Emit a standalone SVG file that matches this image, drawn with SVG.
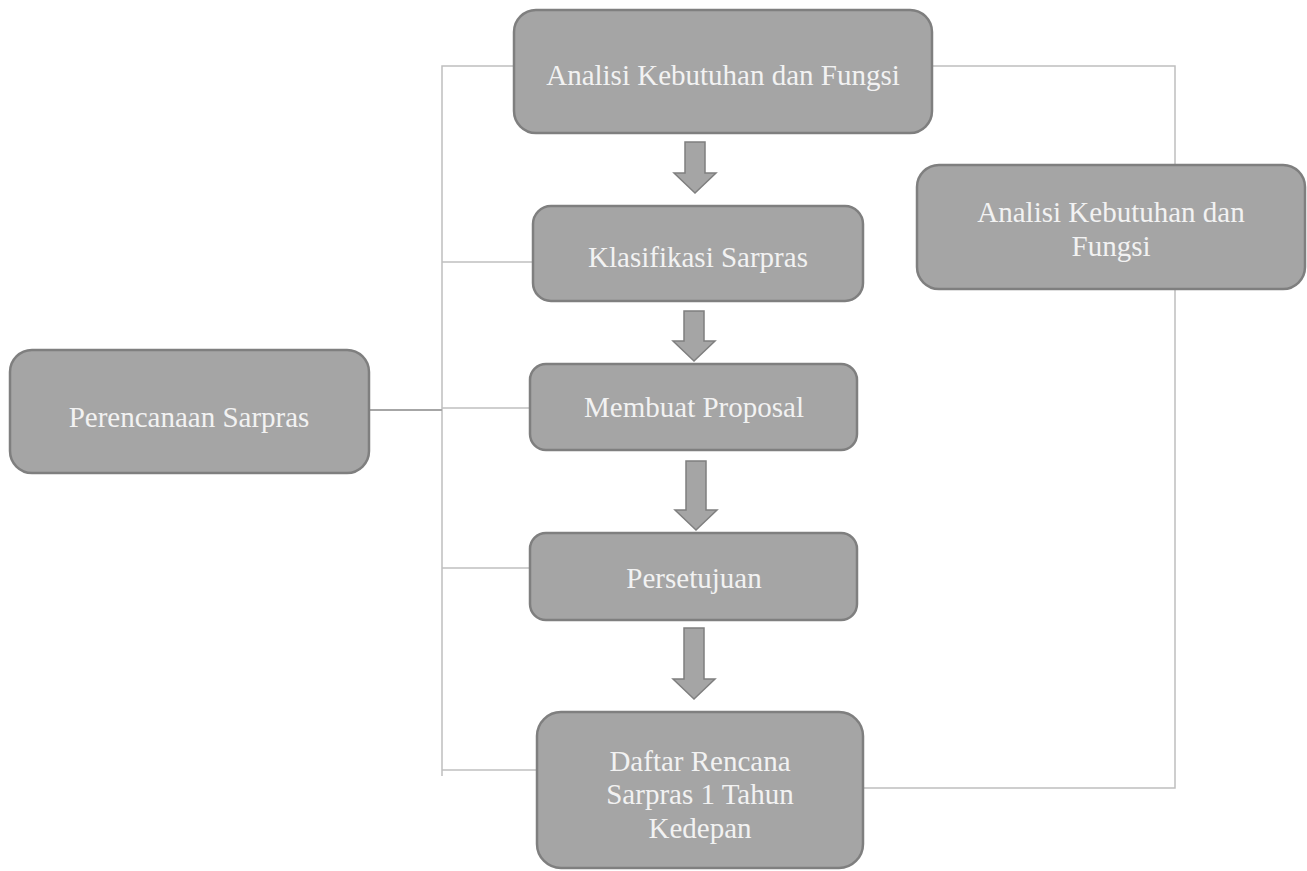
<svg xmlns="http://www.w3.org/2000/svg" width="1307" height="871" viewBox="0 0 1307 871">
<style>
.box{fill:#a5a5a5;stroke:#7f7f7f;stroke-width:2.5}
.arr{fill:#a5a5a5;stroke:#7f7f7f;stroke-width:1.5}
.lbl{font-family:"Liberation Serif","Times New Roman",serif;font-size:29px;fill:#f2f2f2;text-anchor:middle}
.con{fill:none;stroke:#bfbfbf;stroke-width:1.5}
</style>
<rect width="1307" height="871" fill="#ffffff"/>
<g id="connectors">
<polyline class="con" points="514,66 442,66 442,776"/>
<line class="con" x1="442" y1="262" x2="533" y2="262"/>
<line class="con" x1="369" y1="410" x2="442" y2="410" style="stroke:#a6a6a6;stroke-width:2"/>
<line class="con" x1="442" y1="408" x2="530" y2="408"/>
<line class="con" x1="442" y1="568" x2="530" y2="568"/>
<line class="con" x1="442" y1="770" x2="537" y2="770"/>
<polyline class="con" points="932,66 1175,66 1175,165"/>
<polyline class="con" points="1175,289 1175,788 863,788"/>
<path class="arr" d="M685,142 H705 V173 H716 L695,193 L674,173 H685 Z"/>
<path class="arr" d="M684,311 H704 V341 H715 L694,361 L673,341 H684 Z"/>
<path class="arr" d="M686,461 H706 V510 H717 L696,530 L675,510 H686 Z"/>
<path class="arr" d="M684,628 H704 V679 H715 L694,699 L673,679 H684 Z"/>
</g>
<g id="n1"><rect class="box" x="514" y="10" width="418" height="123" rx="22"/><text class="lbl" x="723" y="85">Analisi Kebutuhan dan Fungsi</text></g>
<g id="n2"><rect class="box" x="533" y="206" width="330" height="95" rx="18"/><text class="lbl" x="698" y="267">Klasifikasi Sarpras</text></g>
<g id="n3"><rect class="box" x="530" y="364" width="327" height="86" rx="16"/><text class="lbl" x="694" y="417">Membuat Proposal</text></g>
<g id="n4"><rect class="box" x="530" y="533" width="327" height="87" rx="16"/><text class="lbl" x="694" y="588">Persetujuan</text></g>
<g id="n5"><rect class="box" x="537" y="712" width="326" height="156" rx="24"/><text class="lbl" x="700" y="771">Daftar Rencana</text><text class="lbl" x="700" y="804">Sarpras 1 Tahun</text><text class="lbl" x="700" y="838">Kedepan</text></g>
<g id="n6"><rect class="box" x="10" y="350" width="359" height="123" rx="22"/><text class="lbl" x="189" y="427">Perencanaan Sarpras</text></g>
<g id="n7"><rect class="box" x="917" y="165" width="388" height="124" rx="22"/><text class="lbl" x="1111" y="222">Analisi Kebutuhan dan</text><text class="lbl" x="1111" y="256">Fungsi</text></g>
</svg>
